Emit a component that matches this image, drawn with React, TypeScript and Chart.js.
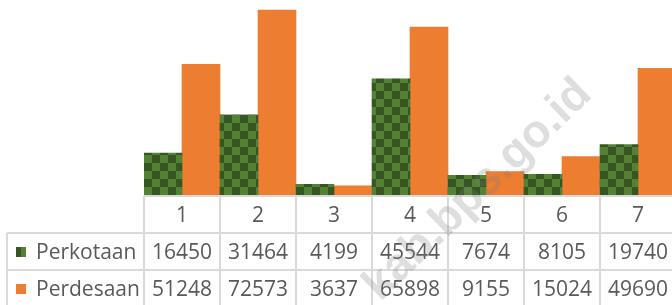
import React, { useEffect, useRef } from "react";
import { Chart, registerables } from "chart.js";

Chart.register(...registerables);

const categories = ["1", "2", "3", "4", "5", "6", "7"];
const perkotaan = [16450, 31464, 4199, 45544, 7674, 8105, 19740];
const perdesaan = [51248, 72573, 3637, 65898, 9155, 15024, 49690];
const seriesNames = ["Perkotaan", "Perdesaan"];
const watermarkText = "kab.bps.go.id";

const GREEN_LIGHT = "#548235";
const GREEN_DARK = "#375623";
const ORANGE = "#ED7D31";
const GRID = "#D9D9D9";
const TEXT = "#595959";
const FONT = "21px 'Open Sans'";

function makeChecker(ctx: CanvasRenderingContext2D): CanvasPattern | string {
  const c = document.createElement("canvas");
  c.width = 16;
  c.height = 16;
  const g = c.getContext("2d")!;
  g.fillStyle = GREEN_LIGHT;
  g.fillRect(0, 0, 16, 16);
  g.fillStyle = GREEN_DARK;
  g.fillRect(0, 0, 8, 8);
  g.fillRect(8, 8, 8, 8);
  const p = ctx.createPattern(c, "repeat");
  if (!p) return GREEN_LIGHT;
  try {
    p.setTransform(new DOMMatrix().translate(0, 3));
  } catch (e) {}
  return p;
}

const tablePlugin = {
  id: "dataTable",
  afterDraw(chart: any) {
    const ctx: CanvasRenderingContext2D = chart.ctx;
    const xs = chart.scales.x;
    const area = chart.chartArea;
    const half = (xs.getPixelForValue(1) - xs.getPixelForValue(0)) / 2;
    const left = xs.getPixelForValue(0) - half;
    const right = xs.getPixelForValue(categories.length - 1) + half;
    const top = area.bottom + 1;
    const rowH = 37;
    const tableLeft = 7;
    const bottom = chart.height + 5;

    ctx.save();
    ctx.strokeStyle = GRID;
    ctx.lineWidth = 2;
    ctx.beginPath();
    ctx.moveTo(left, top);
    ctx.lineTo(right, top);
    for (let r = 1; r <= 2; r++) {
      ctx.moveTo(tableLeft, top + rowH * r);
      ctx.lineTo(right, top + rowH * r);
    }
    for (let i = 0; i <= categories.length; i++) {
      const xx = left + i * half * 2;
      ctx.moveTo(xx, top);
      ctx.lineTo(xx, bottom);
    }
    ctx.moveTo(tableLeft, top + rowH);
    ctx.lineTo(tableLeft, bottom);
    ctx.stroke();

    ctx.fillStyle = TEXT;
    ctx.font = FONT;
    ctx.textBaseline = "alphabetic";
    ctx.textAlign = "center";
    const baseOff = 26;
    categories.forEach((c, i) => {
      const cx = xs.getPixelForValue(i);
      ctx.fillText(c, cx, top + baseOff);
      ctx.fillText(String(perkotaan[i]), cx, top + rowH + baseOff);
      ctx.fillText(String(perdesaan[i]), cx, top + rowH * 2 + baseOff);
    });

    ctx.textAlign = "left";
    const swX = 16;
    const sw = 10;
    const r1c = top + rowH + rowH / 2 + 0.5;
    const r2c = top + rowH * 2 + rowH / 2 + 0.5;
    ctx.fillStyle = GREEN_LIGHT;
    ctx.fillRect(swX, r1c - sw / 2, sw, sw);
    ctx.fillStyle = GREEN_DARK;
    ctx.fillRect(swX, r1c - sw / 2, sw / 2, sw);
    ctx.fillStyle = ORANGE;
    ctx.fillRect(swX, r2c - sw / 2, sw, sw);
    ctx.fillStyle = TEXT;
    ctx.fillText(seriesNames[0], 36, top + rowH + baseOff);
    ctx.fillText(seriesNames[1], 36, top + rowH * 2 + baseOff);

    ctx.translate(478, 190);
    ctx.rotate((-44 * Math.PI) / 180);
    ctx.font = "bold 46px 'Liberation Sans'";
    ctx.textAlign = "center";
    ctx.textBaseline = "middle";
    ctx.fillStyle = "rgba(128,128,128,0.26)";
    ctx.fillText(watermarkText, 0, 0);
    ctx.restore();
  },
};

export default function App() {
  const ref = useRef<HTMLCanvasElement | null>(null);

  useEffect(() => {
    const canvas = ref.current;
    if (!canvas) return;
    const ctx = canvas.getContext("2d")!;
    const pattern = makeChecker(ctx);
    const chart = new Chart(ctx, {
      type: "bar",
      data: {
        labels: categories,
        datasets: [
          {
            label: seriesNames[0],
            data: perkotaan,
            backgroundColor: pattern as any,
            borderWidth: 0,
            categoryPercentage: 1,
            barPercentage: 1,
          },
          {
            label: seriesNames[1],
            data: perdesaan,
            backgroundColor: ORANGE,
            borderWidth: 0,
            categoryPercentage: 1,
            barPercentage: 1,
          },
        ],
      },
      options: {
        responsive: false,
        animation: false,
        devicePixelRatio: 1,
        layout: { padding: { left: 144, right: 4, top: 0, bottom: 110 } },
        plugins: {
          legend: { display: false },
          tooltip: { enabled: false },
          title: { display: false },
        },
        scales: {
          x: { display: false, grid: { display: false } },
          y: { display: false, min: 0, max: 76500 },
        },
      },
      plugins: [tablePlugin],
    });
    return () => chart.destroy();
  }, []);

  return (
    <div
      style={{
        position: "absolute",
        left: 0,
        top: 0,
        width: 672,
        height: 305,
        overflow: "hidden",
        background: "#fff",
      }}
    >
      <canvas ref={ref} width={680} height={305} style={{ display: "block" }} />
    </div>
  );
}
